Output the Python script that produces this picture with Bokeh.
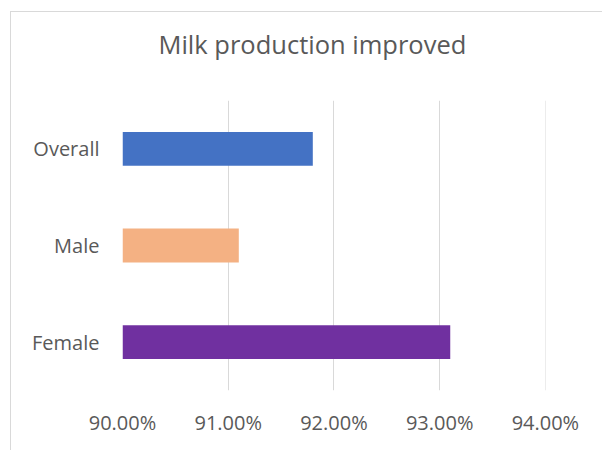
from bokeh.plotting import figure
from bokeh.models import Range1d, FixedTicker, NumeralTickFormatter, ColumnDataSource, Title
from bokeh.embed import file_html
from bokeh.resources import INLINE

categories = ["Female", "Male", "Overall"]
values = [0.931, 0.911, 0.918]
colors = ["#7030A0", "#F4B183", "#4472C4"]
ticks = [0.90, 0.91, 0.92, 0.93, 0.94]
title_text = "Milk production improved"

src = ColumnDataSource(dict(cat=categories, val=values, color=colors))

p = figure(y_range=categories, x_range=Range1d(0.90, 0.94001),
           width=592, height=439, output_backend="svg", toolbar_location=None,
           min_border_left=111, min_border_right=58, min_border_top=88, min_border_bottom=61)
p.margin = (11, 0, 0, 10)
p.styles = {"border-left": "1px solid #d9d9d9", "border-top": "1px solid #d9d9d9"}

p.hbar(y="cat", left=0.90, right="val", height=0.35, color="color", line_color=None, source=src)

# empty spacer panel between the frame and the title
p.add_layout(Title(text=" ", text_font_size="1px", standoff=37), "above")

p.title.text = title_text
p.title.align = "left"
p.title.vertical_align = "bottom"
p.title.text_font = "Open Sans"
p.title.text_font_size = "25.5px"
p.title.text_font_style = "normal"
p.title.text_color = "#595959"
p.title.offset = 36
p.title.standoff = 0

p.outline_line_color = None
p.ygrid.grid_line_color = None
p.xgrid.grid_line_color = "#d9d9d9"
p.xgrid.grid_line_width = 1
p.xaxis.ticker = FixedTicker(ticks=ticks)
p.xaxis.formatter = NumeralTickFormatter(format="0.00%")

for ax in (p.xaxis[0], p.yaxis[0]):
    ax.axis_line_color = None
    ax.major_tick_line_color = None
    ax.minor_tick_line_color = None
    ax.major_label_text_font = "Open Sans"
    ax.major_label_text_font_size = "20px"
    ax.major_label_text_color = "#595959"
p.xaxis.major_label_standoff = 12
p.yaxis.major_label_standoff = 17

open("out.html", "w").write(file_html(p, INLINE))
